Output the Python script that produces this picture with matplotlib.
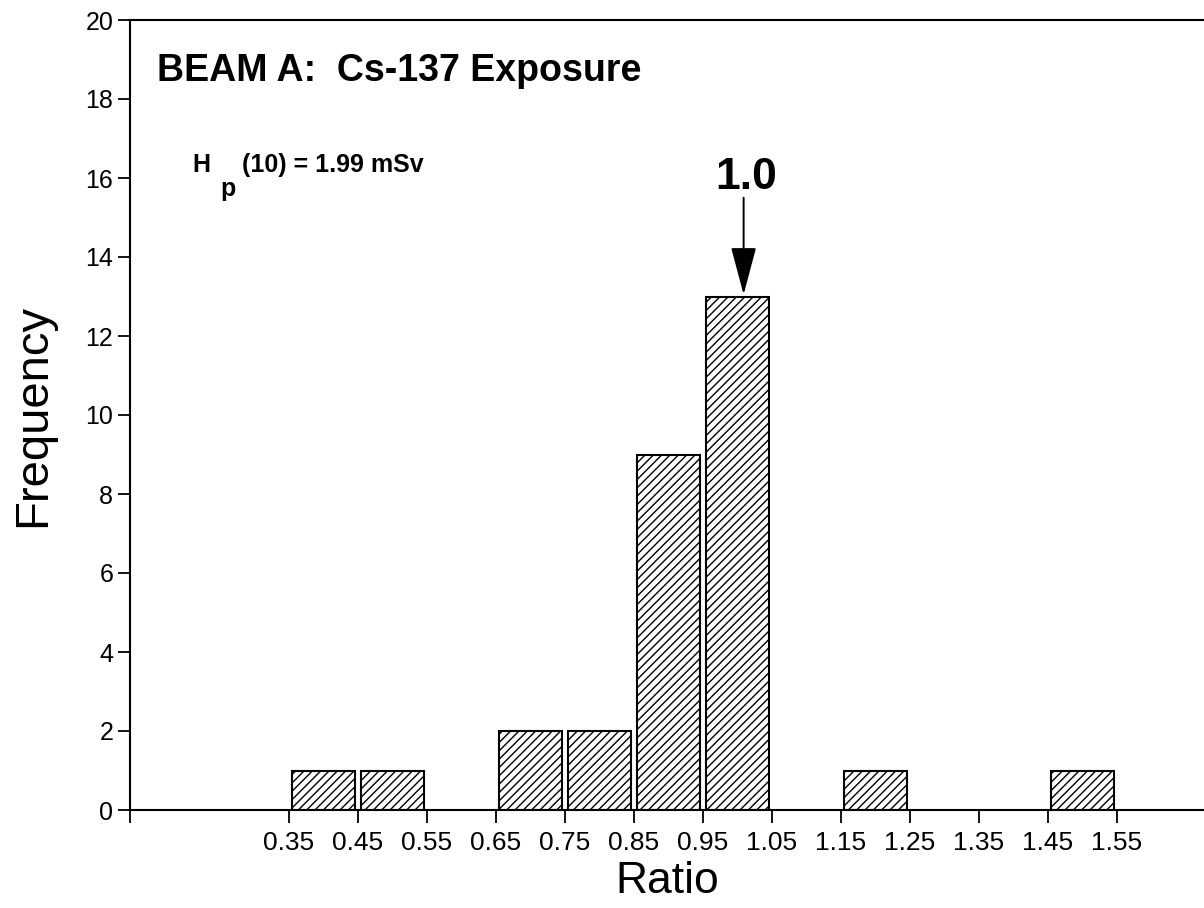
import numpy as np
import matplotlib
matplotlib.use("Agg")
import matplotlib.pyplot as plt

plt.rcParams['font.family'] = ['Liberation Sans', 'DejaVu Sans']
plt.rcParams['hatch.linewidth'] = 1.0

# bin lower edges and counts
bin_left = [0.35, 0.45, 0.65, 0.75, 0.85, 0.95, 1.15, 1.45]
counts = [1, 1, 2, 2, 9, 13, 1, 1]
bin_width = 0.1
tick_vals = [0.35, 0.45, 0.55, 0.65, 0.75, 0.85, 0.95, 1.05, 1.15, 1.25, 1.35, 1.45, 1.55]
tick_labels = ['0.35', '0.45', '0.55', '0.65', '0.75', '0.85', '0.95', '1.05',
               '1.15', '1.25', '1.35', '1.45', '1.55']
y_ticks = list(range(0, 21, 2))
x_min, x_max = 0.12, 1.676

fig = plt.figure(figsize=(12.04, 9.08), dpi=100)
ax = fig.add_axes([130 / 1204, 98 / 908, 1 - 130 / 1204, 790 / 908])

ax.bar(np.array(bin_left) + 0.004, counts, width=bin_width * 0.92, align='edge',
       color='white', edgecolor='black', hatch='////', linewidth=1.5)

ax.set_xlim(x_min, x_max)
ax.set_ylim(0, 20)
ax.set_xticks([x_min] + tick_vals)
ax.set_xticklabels([''] + tick_labels, fontsize=19)
ax.set_yticks(y_ticks)
ax.set_yticklabels([str(v) for v in y_ticks], fontsize=18)
ax.tick_params(axis='both', direction='out', length=9, width=1.3)
ax.tick_params(axis='x', pad=6)
ax.tick_params(axis='y', pad=3)
ax.spines['right'].set_visible(False)
for s in ['left', 'bottom', 'top']:
    ax.spines[s].set_linewidth(1.5)

ax.set_xlabel('Ratio', fontsize=32)
ax.xaxis.set_label_coords(0.5, -0.064)
ax.set_ylabel('Frequency', fontsize=34)
ax.yaxis.set_label_coords(-0.07, 0.5)

ax.text(0.025, 0.935, 'BEAM A:  Cs-137 Exposure', transform=ax.transAxes,
        fontsize=27, fontweight='bold', va='center', ha='left')

# H_p(10) label
ax.text(0.0577, 0.8076, 'H', transform=ax.transAxes, fontsize=18, fontweight='bold',
        va='baseline', ha='left')
ax.text(0.0838, 0.777, 'p', transform=ax.transAxes, fontsize=18, fontweight='bold',
        va='baseline', ha='left')
ax.text(0.1043, 0.8076, '(10) = 1.99 mSv', transform=ax.transAxes, fontsize=18,
        fontweight='bold', va='baseline', ha='left')

# arrow marking 1.0
ax.annotate('', xy=(1.009, 13.05), xytext=(1.009, 15.5),
            arrowprops=dict(arrowstyle='-|>,head_length=3.0,head_width=0.8',
                            color='black', lw=1.4, shrinkA=0, shrinkB=0))
ax.text(1.0125, 15.72, '1.0', fontsize=32, fontweight='bold', ha='center', va='baseline')

fig.savefig('out.png', dpi=100)
